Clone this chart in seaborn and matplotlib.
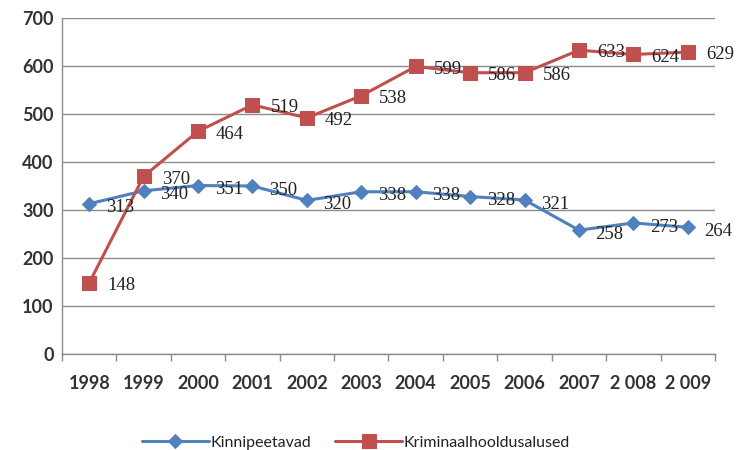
import matplotlib
matplotlib.use("Agg")
import matplotlib.pyplot as plt
import seaborn as sns
import pandas as pd
from matplotlib.ticker import FixedLocator, MultipleLocator

years = ["1998", "1999", "2000", "2001", "2002", "2003", "2004", "2005", "2006", "2007", "2 008", "2 009"]
kinnipeetavad = [313, 340, 351, 350, 320, 338, 338, 328, 321, 258, 273, 264]
kriminaal = [148, 370, 464, 519, 492, 538, 599, 586, 586, 633, 624, 629]
series_names = ["Kinnipeetavad", "Kriminaalhooldusalused"]

sns.set_theme(style="white")
plt.rcParams["font.family"] = ["Lato", "DejaVu Sans"]

fig = plt.figure(figsize=(7.45, 4.5), dpi=100)
ax = fig.add_axes([62/745, 1 - 354/450, 653/745, 336/450])

blue = "#4F81BD"
red = "#C0504D"

df_k = pd.DataFrame({"year": years, "value": kinnipeetavad})
df_r = pd.DataFrame({"year": years, "value": kriminaal})

sns.lineplot(data=df_k, x="year", y="value", ax=ax, color=blue, lw=2.2, marker="D",
             markersize=7, markeredgecolor=blue, sort=False, label=series_names[0])
sns.lineplot(data=df_r, x="year", y="value", ax=ax, color=red, lw=2.2, marker="s",
             markersize=10, markeredgecolor=red, sort=False, label=series_names[1])

serif = ["Liberation Serif", "DejaVu Serif"]
for i, v in enumerate(kinnipeetavad):
    ax.annotate(str(v), (i, v), xytext=(12, -3), textcoords="offset points",
                ha="left", va="center", fontsize=13.5, color="#222222", family=serif)
for i, v in enumerate(kriminaal):
    ax.annotate(str(v), (i, v), xytext=(13, -2), textcoords="offset points",
                ha="left", va="center", fontsize=13.5, color="#222222", family=serif)

ax.set_ylim(0, 700)
ax.set_xlim(-0.5, len(years) - 0.5)
ax.yaxis.set_major_locator(MultipleLocator(100))
ax.grid(axis="y", color="#8c8c8c", lw=1)
ax.grid(axis="x", visible=False)
ax.set_axisbelow(True)
ax.set_xlabel("")
ax.set_ylabel("")

for s in ["top", "right"]:
    ax.spines[s].set_visible(False)
for s in ["left", "bottom"]:
    ax.spines[s].set_color("#8c8c8c")
    ax.spines[s].set_linewidth(1)

ax.xaxis.set_minor_locator(FixedLocator([i - 0.5 for i in range(len(years) + 1)]))
ax.tick_params(axis="x", which="major", length=0, pad=15, labelsize=13, labelcolor="#333333")
ax.tick_params(axis="x", which="minor", length=5, color="#8c8c8c", bottom=True, direction="out")
ax.tick_params(axis="y", length=0, pad=6, labelsize=13, labelcolor="#333333")
for lbl in ax.get_xticklabels() + ax.get_yticklabels():
    lbl.set_fontweight("bold")

leg = ax.legend(loc="upper center", bbox_to_anchor=(0.45, -0.2), ncol=2, frameon=False,
                fontsize=11.5, handlelength=4.2, columnspacing=1.5, handletextpad=0.1)
for t in leg.get_texts():
    t.set_color("#222222")

fig.savefig("out.png", dpi=100)
